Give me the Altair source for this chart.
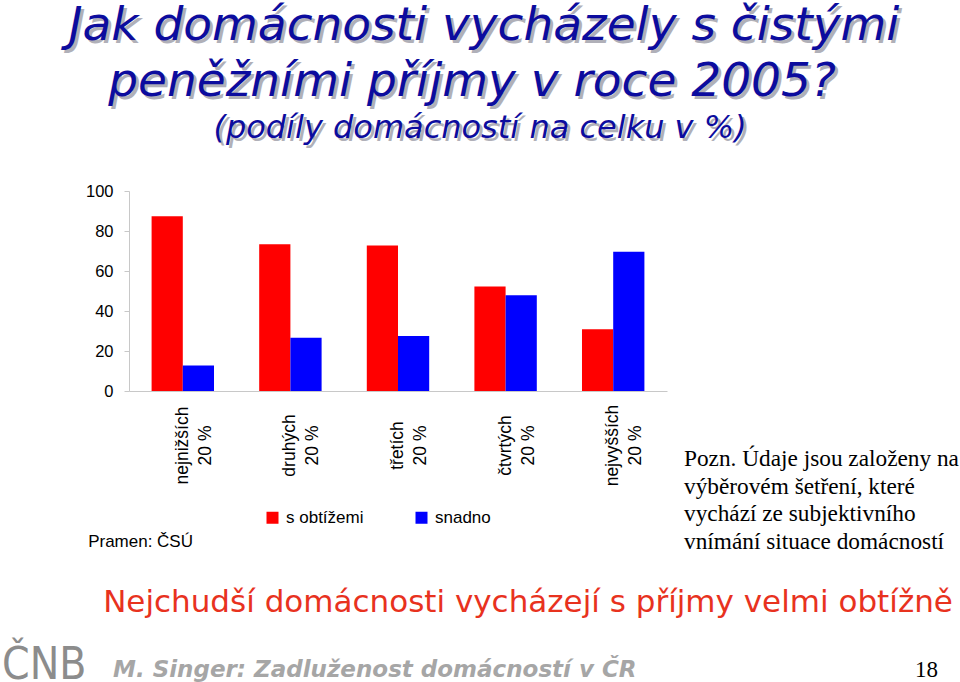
import altair as alt
import pandas as pd

# ---- data ----
kategorie = ["nejnižších 20 %", "druhých 20 %", "třetích 20 %", "čtvrtých 20 %", "nejvyšších 20 %"]
serie = ["s obtížemi", "snadno"]
s_obtizemi = [87.4, 73.4, 72.7, 52.2, 30.9]
snadno = [12.8, 26.6, 27.5, 47.9, 69.6]
y_ticks = [0, 20, 40, 60, 80, 100]
barvy = ["#ff0000", "#0000ff"]

rows = []
for i, k in enumerate(kategorie):
    rows.append({"kategorie": k, "serie": serie[0], "hodnota": s_obtizemi[i]})
    rows.append({"kategorie": k, "serie": serie[1], "hodnota": snadno[i]})
df = pd.DataFrame(rows)

W, H = 538, 200
PL, PT = 129, 191

TITLE_FONT = "DejaVu Sans"
COND_FONT = "DejaVu Sans Condensed, DejaVu Sans"
ARIAL = "Liberation Sans"
TIMES = "Liberation Serif"

bars = alt.Chart(df).mark_bar().encode(
    x=alt.X(
        "kategorie:N",
        sort=kategorie,
        scale=alt.Scale(paddingInner=0.42, paddingOuter=0.21),
        axis=alt.Axis(
            title=None,
            ticks=False,
            domainColor="#c8c8c8",
            labelAngle=270,
            labelAlign="center",
            labelBaseline="middle",
            labelPadding=54,
            labelFont=ARIAL,
            labelFontSize=17.5,
            labelLineHeight=23,
            labelColor="black",
            labelExpr="[replace(datum.label, ' 20 %', ''), '20 %']",
        ),
    ),
    xOffset=alt.XOffset("serie:N", sort=serie, scale=alt.Scale(paddingInner=0, paddingOuter=0)),
    y=alt.Y(
        "hodnota:Q",
        scale=alt.Scale(domain=[0, 100]),
        axis=alt.Axis(
            title=None,
            values=y_ticks,
            grid=False,
            domainColor="#c8c8c8",
            tickColor="#c8c8c8",
            tickSize=5,
            labelFont=ARIAL,
            labelFontSize=16.5,
            labelColor="black",
            labelPadding=11,
        ),
    ),
    color=alt.Color(
        "serie:N",
        sort=serie,
        scale=alt.Scale(domain=serie, range=barvy),
        legend=alt.Legend(
            title=None,
            orient="none",
            legendX=135,
            legendY=318,
            direction="horizontal",
            symbolType="square",
            symbolSize=144,
            symbolStrokeWidth=0,
            labelFont=ARIAL,
            labelFontSize=17,
            labelColor="black",
            labelOffset=5,
            columnPadding=49,
        ),
    ),
)


def txt(text, x, y, size, font, color="black", align="left", style="normal",
        weight="normal", line_height=None):
    kw = dict(fontSize=size, font=font, color=color, align=align,
              baseline="alphabetic", fontStyle=style, fontWeight=weight)
    if line_height:
        kw["lineHeight"] = line_height
    return alt.Chart(alt.Data(values=[{}])).mark_text(**kw).encode(
        x=alt.value(x), y=alt.value(y), text=alt.value(text)
    )


TITLE_BLUE = "#0c0c9e"
SHADOW = "#b0b0b8"
title_lines = [
    ("Jak domácnosti vycházely s čistými", 355, -151, 47),
    ("peněžními příjmy v roce 2005?", 343, -95, 47),
    ("(podíly domácností na celku v %)", 351, -53, 32),
]
texts = []
for t, x, y, s in title_lines:
    texts.append(txt(t, x + 3, y + 3, s, TITLE_FONT, color=SHADOW, align="center", style="italic"))
for t, x, y, s in title_lines:
    texts.append(txt(t, x, y, s, TITLE_FONT, color=TITLE_BLUE, align="center", style="italic"))

texts.append(txt("Pramen: ČSÚ", 64, 356, 17, ARIAL, align="right"))
texts.append(txt(["Pozn. Údaje jsou založeny na", "výběrovém šetření, které",
                  "vychází ze subjektivního", "vnímání situace domácností"],
                 555, 275, 23.3, TIMES, line_height=27.6))
texts.append(txt("Nejchudší domácnosti vycházejí s příjmy velmi obtížně", 399, 421, 31,
                 TITLE_FONT, color="#e8321e", align="center"))
texts.append(txt("M. Singer: Zadluženost domácností v ČR", -16, 486, 23, TITLE_FONT,
                 color="#a6a6a6", style="italic", weight="bold"))
texts.append(txt("18", 786, 486, 23, TIMES))
texts.append(txt("ČNB", -127, 488, 44, COND_FONT, color="#8c8c8c"))

chart = alt.layer(bars, *texts).properties(
    width=W,
    height=H,
    autosize=alt.AutoSizeParams(type="none"),
    padding={"left": PL, "top": PT, "right": 960 - PL - W, "bottom": 682 - PT - H},
).configure_view(stroke=None)

chart.save("out.html", embed_options={"renderer": "svg", "actions": False})
